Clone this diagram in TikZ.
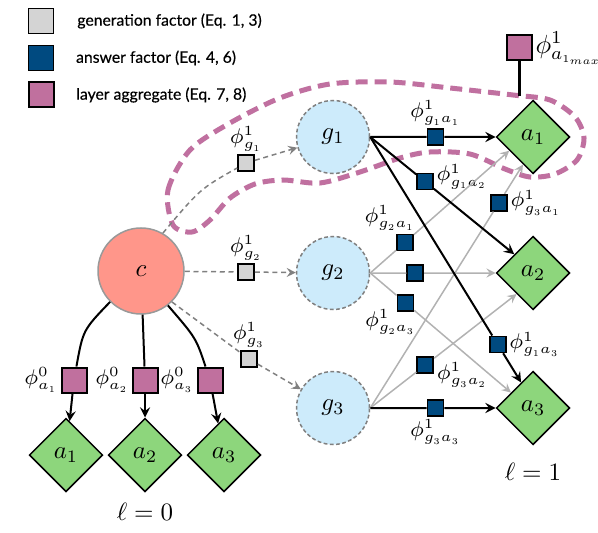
\RequirePackage{fix-cm}
\documentclass[tikz,border=0pt]{standalone}
\usepackage{amsmath}
\usepackage{fontspec}
\newfontfamily\legendfont[FakeBold=0.4]{Lato}
\DeclareMathSizes{8.5}{8.5}{5.6}{3.6}
\DeclareMathSizes{10.5}{10.5}{7.3}{4.2}
\usetikzlibrary{arrows.meta}
\usetikzlibrary{positioning,calc,shapes.geometric}
\definecolor{ctxred}{RGB}{255,150,138}
\definecolor{genblue}{RGB}{205,235,251}
\definecolor{ansgreen}{RGB}{141,214,124}
\definecolor{gfacgray}{RGB}{212,212,212}
\definecolor{afacblue}{RGB}{0,74,128}
\definecolor{aggpink}{RGB}{192,112,158}
\definecolor{looppink}{RGB}{192,112,160}

\begin{document}
\begin{tikzpicture}[x=0.4pt,y=-0.4pt,
	ctx/.style={circle,draw=gray!80,fill=ctxred,line width=0.6pt,minimum size=34.4pt,inner sep=0pt},
	gen/.style={circle,draw=gray,dash pattern=on 1.5pt off 1pt,fill=genblue,line width=0.6pt,minimum size=29.2pt,inner sep=0pt},
	ans/.style={diamond,draw,fill=ansgreen,line width=0.6pt,minimum width=29.4pt,minimum height=29.4pt,inner sep=0pt},
	gfac/.style={draw,fill=gfacgray,line width=0.7pt,minimum size=6.4pt,inner sep=0pt},
	afac/.style={draw,fill=afacblue,line width=0.7pt,minimum size=6.4pt,inner sep=0pt},
	agg/.style={draw,fill=aggpink,line width=0.8pt,minimum size=10pt,inner sep=0pt},
	phlab/.style={font=\fontsize{8.5}{10}\selectfont,inner sep=1pt},
	legtext/.style={font=\legendfont\fontsize{6.3}{7}\selectfont,inner sep=0pt},
	genedge/.style={gray,dash pattern=on 2pt off 1.5pt,line width=0.6pt},
	ansedge/.style={black,line width=0.8pt},
	xedge/.style={black!30,line width=0.6pt}]
	\useasboundingbox (0,0) rectangle (598,532);
	%%aggregate loop
	\draw[looppink,line width=2pt,dash pattern=on 4.8pt off 2.8pt] plot[smooth cycle] coordinates {
		(173,225) (168,190) (190,150) (230,123) (280,98) (330,84) (390,82) (450,88)
		(513,95) (550,100) (575,117) (584,138) (577,160) (555,174) (530,177) (505,169)
		(470,154) (430,152) (400,158) (360,172) (320,183) (283,180) (255,184) (230,198)
		(210,220) (192,232)};
	%%legend
	\node[gfac,minimum size=10pt] (lg1) at (41,21) {};
	\node[afac,minimum size=10pt] (lg2) at (41,58) {};
	\node[agg] (lg3) at (41,95) {};
	\node[legtext,right=9pt of lg1] (lt1) {generation factor (Eq. 1, 3)};
	\node[legtext,right=8.5pt of lg2] (lt2) {answer factor (Eq. 4, 6)};
	\node[legtext,right=8.5pt of lg3] (lt3) {layer aggregate (Eq. 7, 8)};
	%%nodes
	\node[ctx] (c) at (141,271) {$c$};
	\node[gen] (g1) at (333,137) {$g_1$};
	\node[gen] (g2) at (333,273) {$g_2$};
	\node[gen] (g3) at (333,408) {$g_3$};
	\node[ans] (a1) at (533,137) {$a_1$};
	\node[ans] (a2) at (533,273) {$a_2$};
	\node[ans] (a3) at (533,408) {$a_3$};
	\node[ans] (a01) at (66,455) {$a_1$};
	\node[ans] (a02) at (145,455) {$a_2$};
	\node[ans] (a03) at (224,455) {$a_3$};
	\node (l0) at (145,512) {$\ell = 0$};
	\node (l1) at (533,472) {$\ell = 1$};
	%%factors
	\node[agg,label={[phlab]left:$\phi^0_{a_1}$}] (p01) at (74,380) {};
	\node[agg,label={[phlab]left:$\phi^0_{a_2}$}] (p02) at (145,380) {};
	\node[agg,label={[phlab]left:$\phi^0_{a_3}$}] (p03) at (210,380) {};
	\node[agg,label={[inner sep=1pt,font=\fontsize{10.5}{12}\selectfont]right:$\phi^1_{a_{1_{max}}}$}] (p1max) at (519,48) {};
	\coordinate (looptop) at (519,96);
	\node[gfac,label={[phlab]above:$\phi^1_{g_1}$}] (fg1) at (246,163) {};
	\node[gfac,label={[phlab]above:$\phi^1_{g_2}$}] (fg2) at (246,272) {};
	\node[gfac,label={[phlab]above:$\phi^1_{g_3}$}] (fg3) at (249,359) {};
	\node[afac,label={[phlab]above:$\phi^1_{g_1a_1}$}] (f11) at ($(g1.east)!0.52!(a1.west)$) {};
	\node[afac,label={[phlab,yshift=2pt]right:$\phi^1_{g_1a_2}$}] (f12) at ($(g1.east)!0.38!(a2.135)$) {};
	\node[afac,label={[phlab]right:$\phi^1_{g_1a_3}$}] (f13) at ($(g1.east)!0.845!(a3.115)$) {};
	\node[afac,label={[phlab,xshift=-6pt]above:$\phi^1_{g_2a_1}$}] (f21) at ($(g2.east)!0.25!(a1.210)$) {};
	\node[afac] (f22) at ($(g2.east)!0.36!(a2.west)$) {};
	\node[afac,label={[phlab,xshift=-6pt,yshift=2pt]below:$\phi^1_{g_2a_3}$}] (f23) at ($(g2.east)!0.25!(a3.145)$) {};
	\node[afac,label={[phlab]right:$\phi^1_{g_3a_1}$}] (f31) at ($(g3.east)!0.843!(a1.250)$) {};
	\node[afac,label={[phlab,yshift=-4pt]right:$\phi^1_{g_3a_2}$}] (f32) at ($(g3.east)!0.376!(a2.232)$) {};
	\node[afac,label={[phlab]below:$\phi^1_{g_3a_3}$}] (f33) at ($(g3.east)!0.52!(a3.west)$) {};
	%%context to generations
	\draw[genedge] (c.60) .. controls (200,189) .. (fg1);
	\draw[genedge,-stealth] (fg1) -- (g1);
	\draw[genedge] (c) -- (fg2);
	\draw[genedge,-stealth] (fg2) -- (g2);
	\draw[genedge] (c.-45) -- (fg3);
	\draw[genedge,-stealth] (fg3) -- (g3);
	%%layer 0
	\draw[ansedge] (c.225) .. controls (83,330) .. (p01);
	\draw[ansedge] (c) -- (p02);
	\draw[ansedge] (c.-52) .. controls (196,338) .. (p03);
	\draw[ansedge,-stealth] (p01) -- (a01);
	\draw[ansedge,-stealth] (p02) -- (a02);
	\draw[ansedge,-stealth] (p03) -- (a03);
	\draw[line width=1.2pt] (p1max) -- (looptop);
	%%generations to answers
	\draw[xedge] (g2.east) -- (f21);
	\draw[xedge,-stealth] (f21) -- (a1.210);
	\draw[xedge] (g2.east) -- (f22);
	\draw[xedge,-stealth] (f22) -- (a2.west);
	\draw[xedge] (g2.east) -- (f23);
	\draw[xedge,-stealth] (f23) -- (a3.145);
	\draw[xedge] (g3.east) -- (f31);
	\draw[xedge,-stealth] (f31) -- (a1.250);
	\draw[xedge] (g3.east) -- (f32);
	\draw[xedge,-stealth] (f32) -- (a2.232);
	\draw[ansedge] (g1.east) -- (f11);
	\draw[ansedge,-stealth] (f11) -- (a1.west);
	\draw[ansedge] (g1.east) -- (f12);
	\draw[ansedge,-stealth] (f12) -- (a2.135);
	\draw[ansedge] (g1.east) -- (f13);
	\draw[ansedge,-stealth] (f13) -- (a3.115);
	\draw[ansedge] (g3.east) -- (f33);
	\draw[ansedge,-stealth] (f33) -- (a3.west);
\end{tikzpicture}
\end{document}
